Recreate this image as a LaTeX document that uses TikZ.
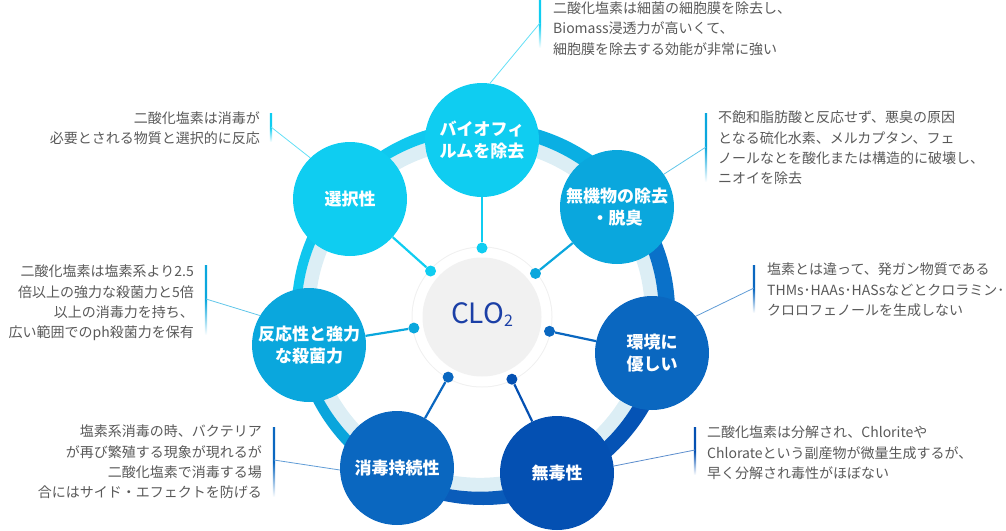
\documentclass[tikz,border=0pt]{standalone}
\usepackage{fontspec}
\usepackage{tikz}
\usetikzlibrary{calc}
\newfontfamily\jp{Noto Sans CJK JP}

\definecolor{cyanA}{HTML}{0FCDF1}
\definecolor{cyanB}{HTML}{0AA7DD}
\definecolor{blueA}{HTML}{0A67C0}
\definecolor{blueB}{HTML}{0450B2}
\definecolor{ringlight}{HTML}{DCEEF5}
\definecolor{hubgray}{HTML}{F1F1F1}
\definecolor{navy}{HTML}{1B3FA6}
\definecolor{txt}{HTML}{595959}

\tikzset{
  topic/.style={circle, fill=#1, minimum size=114pt, inner sep=0pt, text=white,
    align=center, font=\jp\bfseries\fontsize{17}{21.5}\selectfont},
  hub/.style={circle, fill=#1, minimum size=11pt, inner sep=0pt},
  spoke/.style={draw=#1, line width=2.2pt},
  note/.style={inner sep=0pt, text=txt, font=\jp\fontsize{14}{20.3}\selectfont},
  lead/.style={draw=#1!65, line width=0.8pt},
  bar/.style={top color=#1, bottom color=white, middle color=#1}
}

\begin{document}
\begin{tikzpicture}[x=1pt, y=1pt]
  \useasboundingbox (0,0) rectangle (1006,-530);
  \coordinate (c) at (482,-317);
  \coordinate (rin) at (480,-313);
  \coordinate (rout) at (483.3,-313.2);

  % ring
  \draw[ringlight, line width=14pt] (rin) circle[radius=171.8];
  \foreach \a/\b/\col in {90/138/10C8EF, 138/189/10C6EE, 189/241/0AA5DC, 241/296/0A5CBA,
                          296/348/0553B5, 348/399/0A71C9, 39/90/0AAFE3} {
    \begin{scope}
      \clip (rin) -- ($(rin)+(\a:260)$) arc[start angle=\a, end angle=\b, radius=260] -- cycle;
      \definecolor{seg}{HTML}{\col}
      \fill[seg, even odd rule] (rout) circle[radius=191.8] (rin) circle[radius=178.7];
    \end{scope}
  }

  % centre
  \node[circle, fill=black!6, minimum size=141pt, inner sep=0pt] (halo) at (c) {};
  \node[circle, fill=white, minimum size=139pt, inner sep=0pt] (rim) at (c) {};
  \node[circle, fill=hubgray, minimum size=119pt, inner sep=0pt] (core) at (c) {};
  \node[text=navy, inner sep=0pt, font=\jp\fontsize{28}{28}\selectfont] (clo) at ($(c)+(0,2.5)$)
    {CLO\raisebox{-3pt}{\fontsize{16}{16}\selectfont 2}};

  % topics
  \node[topic=cyanA] (bio) at (482,-140) {バイオフィ\\ルムを除去};
  \node[topic=cyanA] (select) at (350,-199) {選択性};
  \node[topic=cyanB] (inorg) at (617,-207) {無機物の除去\\・脱臭};
  \node[topic=cyanB] (react) at (309,-345) {反応性と強力\\な殺菌力};
  \node[topic=blueA] (env) at (652,-353) {環境に\\優しい};
  \node[topic=blueA] (persist) at (397,-468) {消毒持続性};
  \node[topic=blueB] (nontox) at (557,-473) {無毒性};

  % spokes
  \foreach \t/\col in {bio/cyanA, select/cyanA, inorg/cyanB, react/cyanB,
                       env/blueA, persist/blueA, nontox/blueB} {
    \node[hub=\col] (h\t) at ($(c)!69pt!(\t)$) {};
    \draw[spoke=\col] (h\t) -- (\t);
  }

  % notes, right side
  \shade[bar=cyanA] (538.8,0) rectangle (541.2,-48);
  \coordinate (biobar) at (540,-23);
  \node[note, anchor=north west, align=left] (biotxt) at (553,-1.5)
    {二酸化塩素は細菌の細胞膜を除去し、\\Biomass浸透力が高いくて、\\細胞膜を除去する効能が非常に強い};
  \draw[lead=cyanA] (biobar) -- (bio.82);

  \shade[bar=cyanB] (704.8,-113) rectangle (707.2,-182);
  \coordinate (inorgbar) at (706,-147);
  \node[note, anchor=north west, align=left] (inorgtxt) at (718,-111)
    {不飽和脂肪酸と反応せず、悪臭の原因\\となる硫化水素、メルカプタン、フェ\\ノールなとを酸化または構造的に破壊し、\\ニオイを除去};
  \draw[lead=cyanB] (inorgbar) -- (inorg.35);

  \shade[bar=blueA] (752.8,-265) rectangle (755.2,-313);
  \coordinate (envbar) at (754,-288);
  \node[note, anchor=north west, align=left] (envtxt) at (767,-263)
    {塩素とは違って、発ガン物質である\\THMs･HAAs･HASsなどとクロラミン･\\クロロフェノールを生成しない};
  \draw[lead=blueA] (envbar) -- (env.40);

  \shade[bar=blueB] (693.8,-427) rectangle (696.2,-475);
  \coordinate (nontoxbar) at (695,-450);
  \node[note, anchor=north west, align=left] (nontoxtxt) at (707,-426)
    {二酸化塩素は分解され、Chloriteや\\Chlorateという副産物が微量生成するが、\\早く分解され毒性がほぼない};
  \draw[lead=blueB] (nontoxbar) -- (nontox.7);

  % notes, left side
  \shade[bar=cyanA] (269.8,-113) rectangle (272.2,-142);
  \coordinate (selectbar) at (271,-127);
  \node[note, anchor=north east, align=right] (selecttxt) at (260,-111)
    {二酸化塩素は消毒が\\必要とされる物質と選択的に反応};
  \draw[lead=cyanA] (selectbar) -- (select.134);

  \shade[bar=cyanB] (204.8,-265) rectangle (207.2,-335);
  \coordinate (reactbar) at (206,-299);
  \node[note, anchor=north east, align=right] (reacttxt) at (194,-265)
    {二酸化塩素は塩素系より2.5\\倍以上の強力な殺菌力と5倍\\以上の消毒力を持ち、\\広い範囲でのph殺菌力を保有};
  \draw[lead=cyanB] (reactbar) -- (react.149);

  \shade[bar=blueA] (272.8,-427) rectangle (275.2,-497);
  \coordinate (persistbar) at (274,-460);
  \node[note, anchor=north east, align=right] (persisttxt) at (262,-425)
    {塩素系消毒の時、バクテリア\\が再び繁殖する現象が現れるが\\二酸化塩素で消毒する場\\合にはサイド・エフェクトを防げる};
  \draw[lead=blueA] (persistbar) -- (persist.182);
\end{tikzpicture}
\end{document}
